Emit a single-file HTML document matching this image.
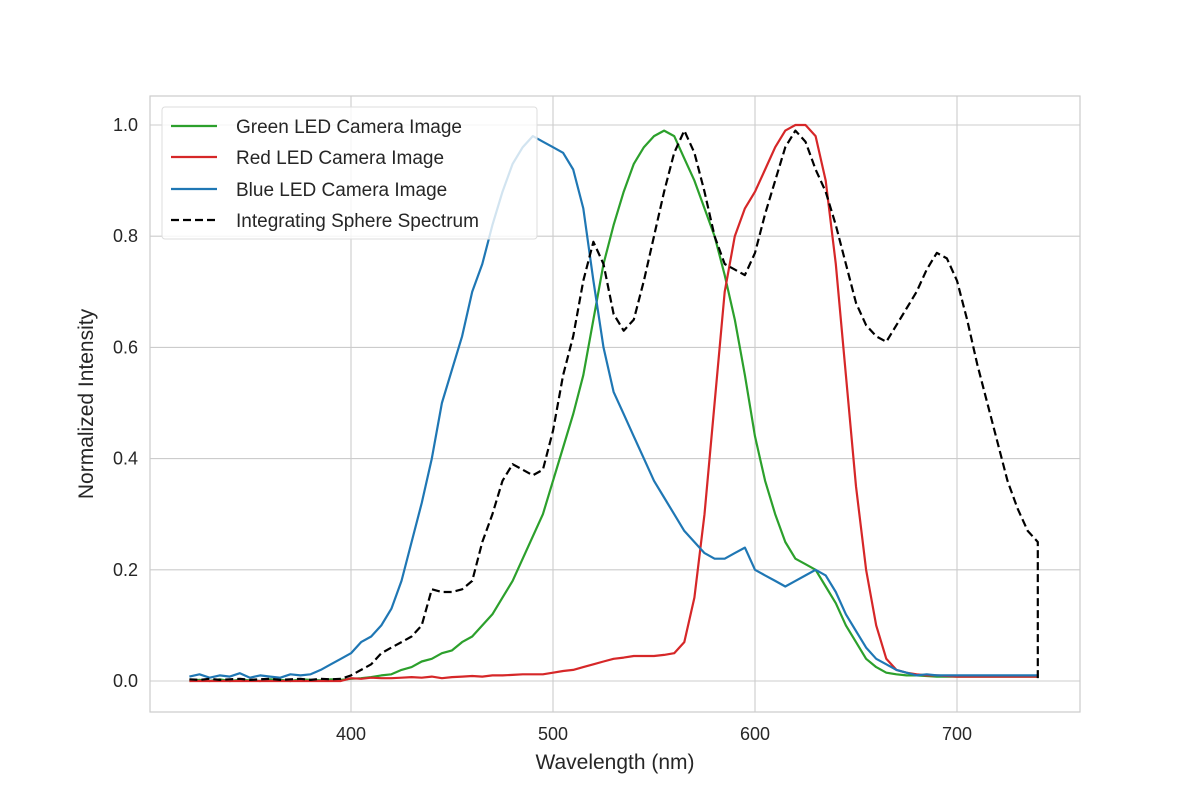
<!DOCTYPE html>
<html><head><meta charset="utf-8"><style>
html,body{margin:0;padding:0;background:#fff;}
text{font-family:"Liberation Sans","DejaVu Sans",sans-serif;fill:#262626;}
</style></head><body>
<svg id="chart" width="1200" height="800" xmlns="http://www.w3.org/2000/svg">
<rect width="1200" height="800" fill="#fff"/>
<g id="grid"></g>
<rect x="150" y="96" width="930" height="616" fill="none" stroke="#cccccc" stroke-width="1.2"/>
<g id="ticks"></g>
<g id="series"></g>
<text x="615" y="769" font-size="21" text-anchor="middle">Wavelength (nm)</text>
<text transform="translate(93,404) rotate(-90)" font-size="21" text-anchor="middle">Normalized Intensity</text>
<g>
<rect x="162" y="107" width="375" height="132" rx="3" fill="#fff" fill-opacity="0.8" stroke="#dddddd"/>
<g><line x1="171" y1="126" x2="217" y2="126" stroke="#2ca02c" stroke-width="2.2"/><text x="236" y="133" font-size="19">Green LED Camera Image</text></g>
<g><line x1="171" y1="157" x2="217" y2="157" stroke="#d62728" stroke-width="2.2"/><text x="236" y="164" font-size="19">Red LED Camera Image</text></g>
<g><line x1="171" y1="189" x2="217" y2="189" stroke="#1f77b4" stroke-width="2.2"/><text x="236" y="196" font-size="19">Blue LED Camera Image</text></g>
<g><line x1="171" y1="220" x2="217" y2="220" stroke="#000" stroke-width="2.2" stroke-dasharray="8,4"/><text x="236" y="227" font-size="19">Integrating Sphere Spectrum</text></g>
</g>
</svg>
<script>
const wavelengths=[];for(let w=320;w<=740;w+=5)wavelengths.push(w);
const green=[0,0.002,0,0.003,0,0.002,0.001,0,0.003,0.002,0,0.003,0.002,0.001,0.003,0.002,0.004,0.005,0.007,0.01,0.012,0.02,0.025,0.035,0.04,0.05,0.055,0.07,0.08,0.1,0.12,0.15,0.18,0.22,0.26,0.3,0.36,0.42,0.48,0.55,0.65,0.75,0.82,0.88,0.93,0.96,0.98,0.99,0.98,0.94,0.9,0.85,0.8,0.73,0.65,0.55,0.44,0.36,0.3,0.25,0.22,0.21,0.2,0.17,0.14,0.1,0.07,0.04,0.025,0.015,0.012,0.01,0.01,0.009,0.008,0.008,0.008,0.008,0.008,0.008,0.008,0.008,0.008,0.008,0.008];
const red=[0,0,0,0,0,0,0,0,0,0,0,0,0,0,0,0,0.005,0.004,0.006,0.005,0.005,0.006,0.007,0.006,0.008,0.005,0.007,0.008,0.009,0.008,0.01,0.01,0.011,0.012,0.012,0.012,0.015,0.018,0.02,0.025,0.03,0.035,0.04,0.042,0.045,0.045,0.045,0.047,0.05,0.07,0.15,0.3,0.5,0.7,0.8,0.85,0.88,0.92,0.96,0.99,1.0,1.0,0.98,0.9,0.75,0.55,0.35,0.2,0.1,0.04,0.02,0.015,0.012,0.01,0.01,0.009,0.008,0.008,0.008,0.008,0.008,0.008,0.008,0.008,0.008];
const blue=[0.008,0.012,0.006,0.01,0.008,0.014,0.006,0.01,0.008,0.006,0.012,0.01,0.012,0.02,0.03,0.04,0.05,0.07,0.08,0.1,0.13,0.18,0.25,0.32,0.4,0.5,0.56,0.62,0.7,0.75,0.82,0.88,0.93,0.96,0.98,0.97,0.96,0.95,0.92,0.85,0.72,0.6,0.52,0.48,0.44,0.4,0.36,0.33,0.3,0.27,0.25,0.23,0.22,0.22,0.23,0.24,0.2,0.19,0.18,0.17,0.18,0.19,0.2,0.19,0.16,0.12,0.09,0.06,0.04,0.03,0.02,0.015,0.01,0.012,0.01,0.01,0.01,0.01,0.01,0.01,0.01,0.01,0.01,0.01,0.01];
const sphere=[0.003,0.002,0.004,0.002,0.003,0.004,0.002,0.003,0.004,0.002,0.003,0.004,0.002,0.004,0.003,0.004,0.01,0.02,0.03,0.05,0.06,0.07,0.08,0.1,0.165,0.16,0.16,0.165,0.18,0.25,0.3,0.36,0.39,0.38,0.37,0.38,0.45,0.55,0.62,0.72,0.79,0.75,0.66,0.63,0.65,0.72,0.8,0.88,0.95,0.99,0.95,0.88,0.8,0.75,0.74,0.73,0.77,0.84,0.9,0.96,0.99,0.97,0.92,0.88,0.82,0.75,0.68,0.64,0.62,0.61,0.64,0.67,0.7,0.74,0.77,0.76,0.72,0.65,0.57,0.5,0.43,0.36,0.31,0.27,0.25];
const xTicks=[400,500,600,700];
const yTicks=[0,0.2,0.4,0.6,0.8,1.0];
const NS="http://www.w3.org/2000/svg";
const xs=v=>351+(v-400)*2.02;
const ys=v=>681-v*556;
const grid=document.getElementById('grid'),ticks=document.getElementById('ticks'),ser=document.getElementById('series');
xTicks.forEach(t=>{
const l=document.createElementNS(NS,'line');


l.setAttribute('x1',xs(t));l.setAttribute('x2',xs(t));l.setAttribute('y1',96);l.setAttribute('y2',712);l.setAttribute('stroke','#cccccc');l.setAttribute('stroke-width','1.1');grid.appendChild(l);
const tx=document.createElementNS(NS,'text');


tx.setAttribute('x',xs(t));tx.setAttribute('y',740);tx.setAttribute('font-size','18');tx.setAttribute('text-anchor','middle');tx.textContent=t;ticks.appendChild(tx);
});
yTicks.forEach(t=>{
const l=document.createElementNS(NS,'line');


l.setAttribute('x1',150);l.setAttribute('x2',1080);l.setAttribute('y1',ys(t));l.setAttribute('y2',ys(t));l.setAttribute('stroke','#cccccc');l.setAttribute('stroke-width','1.1');grid.appendChild(l);
const tx=document.createElementNS(NS,'text');


tx.setAttribute('x',138);tx.setAttribute('y',ys(t)+6);tx.setAttribute('font-size','18');tx.setAttribute('text-anchor','end');tx.textContent=t.toFixed(1);ticks.appendChild(tx);
});
function draw(vals,color,name,dash,extra){
let pts=vals.map((v,i)=>xs(wavelengths[i]).toFixed(1)+','+ys(v).toFixed(1));
if(extra)pts.push(xs(wavelengths[wavelengths.length-1]).toFixed(1)+','+ys(extra).toFixed(1));
const p=document.createElementNS(NS,'polyline');


p.setAttribute('points',pts.join(' '));p.setAttribute('fill','none');p.setAttribute('stroke',color);p.setAttribute('stroke-width','2.2');p.setAttribute('stroke-linejoin','round');
if(dash)p.setAttribute('stroke-dasharray',dash);
ser.appendChild(p);
}
draw(green,'#2ca02c','green-led-line');
draw(red,'#d62728','red-led-line');
draw(blue,'#1f77b4','blue-led-line');
draw(sphere,'#000','sphere-spectrum-line','8,4',0.005);
</script>
</body></html>
